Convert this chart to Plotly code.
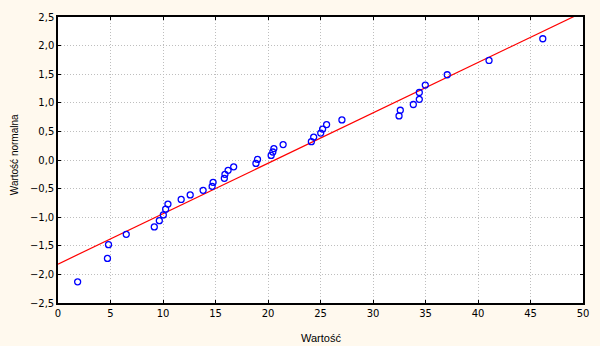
import plotly.graph_objects as go

# Observed values (Wartość) and normal scores (Wartość normalna)
values = [1.87, 4.71, 4.81, 6.5, 9.17, 9.65, 10.03, 10.25, 10.47, 11.73,
          12.59, 13.82, 14.68, 14.77, 15.84, 15.9, 16.2, 16.73, 18.85, 19.0,
          20.3, 20.46, 20.56, 21.44, 24.13, 24.35, 25.02, 25.2, 25.58, 27.04,
          32.48, 32.6, 33.84, 34.41, 34.41, 34.98, 37.07, 41.05, 46.17]
normal_scores = [-2.13, -1.72, -1.48, -1.30, -1.17, -1.06, -0.96, -0.86, -0.77, -0.69,
                 -0.61, -0.53, -0.46, -0.39, -0.32, -0.25, -0.18, -0.12, -0.06, 0.01,
                 0.08, 0.14, 0.20, 0.27, 0.32, 0.40, 0.47, 0.54, 0.62, 0.70,
                 0.77, 0.87, 0.97, 1.06, 1.18, 1.31, 1.49, 1.74, 2.12]

# Reference line (fitted)
line_x = [0, 50]
line_intercept = -1.82
line_slope = 0.0881
line_y = [line_intercept + line_slope * v for v in line_x]

x_ticks = [0, 5, 10, 15, 20, 25, 30, 35, 40, 45, 50]
y_ticks = [-2.5, -2.0, -1.5, -1.0, -0.5, 0.0, 0.5, 1.0, 1.5, 2.0, 2.5]

fig = go.Figure()
fig.add_trace(go.Scatter(x=line_x, y=line_y, mode="lines",
                         line=dict(color="#FF0000", width=1.2), hoverinfo="skip"))
fig.add_trace(go.Scatter(x=values, y=normal_scores, mode="markers",
                         marker=dict(symbol="circle-open", size=6, color="#0000FF",
                                     line=dict(width=1.3, color="#0000FF"))))

axis_common = dict(showline=True, linecolor="black", linewidth=1.5, mirror="allticks",
                   ticks="inside", ticklen=3, tickcolor="black", tickwidth=1,
                   showgrid=True, gridcolor="#BEBEBE", griddash="1px,2px", gridwidth=1,
                   zeroline=False,
                   tickfont=dict(family="DejaVu Sans", size=10, color="black"))

fig.update_layout(
    width=600, height=346,
    margin=dict(l=58, r=15, t=11, b=43),
    paper_bgcolor="#FFF9EE", plot_bgcolor="white",
    showlegend=False,
    separators=", ",
    xaxis=dict(range=[0, 50], tickvals=x_ticks, ticktext=[str(t) for t in x_ticks], **axis_common),
    yaxis=dict(range=[-2.5, 2.5], tickvals=y_ticks, tickformat=".1f", **axis_common),
    annotations=[
        dict(text="Wartość", xref="paper", yref="paper", x=0.5, y=-0.095,
             xanchor="center", yanchor="top", showarrow=False,
             font=dict(family="Liberation Sans", size=11, color="black")),
        dict(text="Wartość normalna", xref="paper", yref="paper", x=-0.084, y=0.52,
             xanchor="center", yanchor="middle", textangle=-90, showarrow=False,
             font=dict(family="Liberation Sans", size=10, color="black")),
    ],
)

fig.write_html("out.html", config={"displayModeBar": False},
               post_script="document.body.style.margin='0';document.body.style.background='#FFF9EE';")
